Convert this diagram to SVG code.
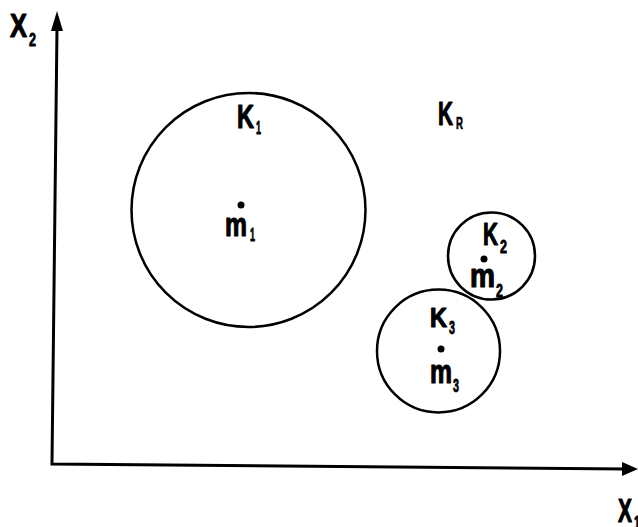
<svg xmlns="http://www.w3.org/2000/svg" width="638" height="527" viewBox="0 0 638 527">
<style>
.t{font-family:"Liberation Sans Narrow","Liberation Sans","DejaVu Sans Condensed",sans-serif;font-weight:bold;fill:#000;stroke:#000;stroke-width:1.2;stroke-linejoin:round}
.b{font-size:34px}
.s{font-size:18px;stroke-width:0.8}
.c{fill:none;stroke:#000;stroke-width:2.5}
.ax{fill:none;stroke:#000;stroke-width:3}
</style>
<rect width="638" height="527" fill="#fff"/>
<g id="axes">
<path class="ax" d="M57,28 L52,464 L626,469"/>
<polygon points="57,11 51,31 63,31" fill="#000"/>
<polygon points="638,469 622,462 622,476" fill="#000"/>
<text class="t b" x="10" y="37" textLength="17" lengthAdjust="spacingAndGlyphs">X</text>
<text class="t s" x="29" y="46" textLength="7" lengthAdjust="spacingAndGlyphs">2</text>
<text class="t b" x="618" y="522" textLength="14" lengthAdjust="spacingAndGlyphs">X</text>
<text class="t s" x="634" y="529" textLength="6" lengthAdjust="spacingAndGlyphs">1</text>
</g>
<g id="K1">
<circle class="c" cx="248.5" cy="210" r="117"/>
<text class="t b" x="237" y="128" textLength="17" lengthAdjust="spacingAndGlyphs">K</text>
<text class="t s" x="256" y="134" textLength="5" lengthAdjust="spacingAndGlyphs">1</text>
<circle cx="241" cy="205" r="3.5" fill="#000"/>
<text class="t b" x="225" y="236" textLength="22" lengthAdjust="spacingAndGlyphs">m</text>
<text class="t s" x="250" y="241" textLength="5" lengthAdjust="spacingAndGlyphs">1</text>
</g>
<g id="KR">
<text class="t b" x="438" y="125" textLength="15" lengthAdjust="spacingAndGlyphs">K</text>
<text class="t" style="font-size:17px;stroke-width:0.6" x="456" y="129" textLength="7" lengthAdjust="spacingAndGlyphs">R</text>
</g>
<g id="K2">
<circle class="c" cx="491.5" cy="256" r="43.5"/>
<text class="t" style="font-size:32px" x="483" y="245" textLength="15" lengthAdjust="spacingAndGlyphs">K</text>
<text class="t s" x="500" y="253" textLength="7" lengthAdjust="spacingAndGlyphs">2</text>
<circle cx="484" cy="259" r="3.5" fill="#000"/>
<text class="t b" x="470" y="287" textLength="25" lengthAdjust="spacingAndGlyphs">m</text>
<text class="t s" x="496" y="297" textLength="7" lengthAdjust="spacingAndGlyphs">2</text>
</g>
<g id="K3">
<circle class="c" cx="438.5" cy="351" r="61.5"/>
<text class="t" style="font-size:28px" x="430" y="327" textLength="17" lengthAdjust="spacingAndGlyphs">K</text>
<text class="t s" x="449" y="334" textLength="6" lengthAdjust="spacingAndGlyphs">3</text>
<circle cx="441" cy="349" r="3.5" fill="#000"/>
<text class="t b" x="430" y="383" textLength="22" lengthAdjust="spacingAndGlyphs">m</text>
<text class="t s" x="453" y="392" textLength="6" lengthAdjust="spacingAndGlyphs">3</text>
</g>
</svg>
